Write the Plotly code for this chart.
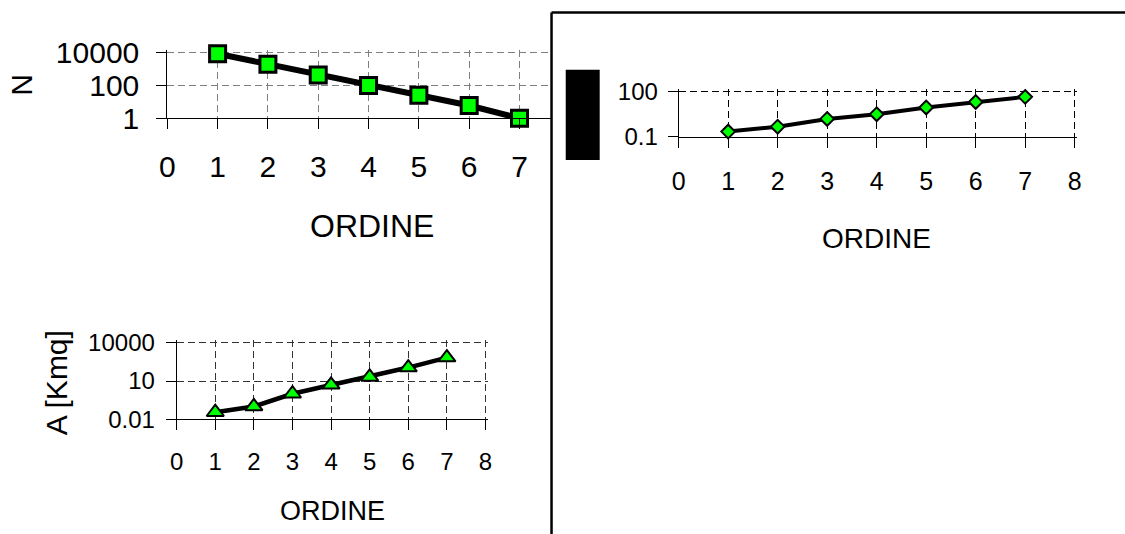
import plotly.graph_objects as go

# Stream order (Horton-Strahler) shared by the three plots
ordine = [1, 2, 3, 4, 5, 6, 7]

# Number of streams per order
n_aste = [9000, 2000, 450, 100, 26, 6, 1]

# Mean stream length per order
l_media = [0.22, 0.47, 1.55, 3.2, 9, 21, 46]

# Mean drainage area per order [Kmq]
a_media = [0.035, 0.1, 1, 5, 21, 115, 700]

x_ticks = [0, 1, 2, 3, 4, 5, 6, 7, 8]
n_ticks = [1, 100, 10000]
l_ticks = [0.1, 100]
a_ticks = [0.01, 10, 10000]

# Positions below are screen pixels; SX, SY, OY convert them to page pixels,
# and BODY is the default page margin in front of the graph div.
SX, SY, OY = 0.99, 0.94, 6.0
BODY = 8
SCREEN_W, SCREEN_H = 1125, 534
W = int(round(SCREEN_W / SX - BODY)) + 1
H = int(round((SCREEN_H - OY) / SY - BODY)) + 1
FONT = "Liberation Sans, Arial, sans-serif"
GREEN = "#00ff00"
PAD = 2.5  # px added past the last gridline so plotly keeps it


def px(x):
    return (x / SX - BODY) / W


def py(y):
    return 1 - ((y - OY) / SY - BODY) / H


fig = go.Figure()

fig.add_trace(go.Scatter(
    x=ordine, y=n_aste, mode="lines+markers", xaxis="x", yaxis="y",
    line=dict(color="black", width=6),
    marker=dict(symbol="square", size=16, color=GREEN, line=dict(color="black", width=3)),
    showlegend=False, cliponaxis=False))

fig.add_trace(go.Scatter(
    x=ordine, y=l_media, mode="lines+markers", xaxis="x2", yaxis="y2",
    line=dict(color="black", width=4),
    marker=dict(symbol="diamond", size=10.5, color=GREEN, line=dict(color="black", width=2)),
    showlegend=False, cliponaxis=False))

fig.add_trace(go.Scatter(
    x=ordine, y=a_media, mode="lines+markers", xaxis="x3", yaxis="y3",
    line=dict(color="black", width=4.5),
    marker=dict(symbol="triangle-up", size=15, color=GREEN, line=dict(color="black", width=2)),
    showlegend=False, cliponaxis=False))


def xaxis(x0, x1, rng, gridcolor, fs, standoff, anchor):
    # x0/x1 in screen pixels; x1 is where rng[1] sits before padding
    unit = (x1 - x0) / (rng[1] - rng[0])
    return dict(
        domain=[px(x0), px(x1 + PAD)], range=[rng[0], rng[1] + PAD / unit], anchor=anchor,
        tickvals=x_ticks, ticktext=[str(v) for v in x_ticks],
        showline=True, linecolor="black", linewidth=1,
        ticks="outside", ticklen=10, tickcolor="black", tickwidth=1,
        ticklabelstandoff=standoff,
        showgrid=True, gridcolor=gridcolor, gridwidth=1, griddash="7px,4px",
        zeroline=False, tickfont=dict(family=FONT, size=fs, color="black"),
        fixedrange=True)


def yaxis(y_bottom, y_top, rng, vals, anchor, gridcolor, fs, standoff):
    unit = (y_bottom - y_top) / (rng[1] - rng[0])
    return dict(
        domain=[py(y_bottom), py(y_top - PAD)], type="log",
        range=[rng[0], rng[1] + PAD / unit], anchor=anchor,
        tickvals=vals, ticktext=[f"{v:g}" for v in vals],
        showline=True, linecolor="black", linewidth=1,
        ticks="outside", ticklen=10, tickcolor="black", tickwidth=1,
        ticklabelstandoff=standoff,
        showgrid=True, gridcolor=gridcolor, gridwidth=1, griddash="7px,4px",
        zeroline=False, tickfont=dict(family=FONT, size=fs, color="black"),
        fixedrange=True)


# Top-left plot: the right panel cuts it off at x = 551 px
x1_left, x1_unit = 167.3, 50.35
x1_right = 551 - PAD
fig.update_layout(
    xaxis=xaxis(x1_left, x1_right, [0, (x1_right - x1_left) / x1_unit], "#7f7f7f", 30, 12, "y"),
    yaxis=yaxis(117.3, 52.3, [0, 4], n_ticks, "x", "#7f7f7f", 30, 11),
    xaxis2=xaxis(679, 1075.3, [0, 8], "#000000", 25, 12, "y2"),
    yaxis2=yaxis(135.7, 91, [-1, 2], l_ticks, "x2", "#000000", 24, 5),
    xaxis3=xaxis(176.7, 485.7, [0, 8], "#333333", 24, 11, "y3"),
    yaxis3=yaxis(416.9, 341, [-2, 4], a_ticks, "x3", "#333333", 24, 6),
)

annotations = [
    dict(text="ORDINE", x=px(372), y=py(225), size=32),
    dict(text="N", x=px(22), y=py(84), textangle=-90, size=30),
    dict(text="ORDINE", x=px(877), y=py(237), size=28),
    dict(text="ORDINE", x=px(333), y=py(508), size=27),
    dict(text="A [Kmq]", x=px(56), y=py(381), textangle=-90, size=30),
]
for a in annotations:
    size = a.pop("size")
    a.update(xref="paper", yref="paper", showarrow=False, xanchor="center", yanchor="middle",
             font=dict(family=FONT, size=size, color="black"))
fig.update_layout(annotations=annotations)

# Frame of the right panel and the dark block over its y-axis title
fig.update_layout(shapes=[
    dict(type="line", xref="paper", yref="paper", x0=px(551.8), x1=px(551.8), y0=py(12), y1=0,
         line=dict(color="black", width=2.5), layer="above"),
    dict(type="line", xref="paper", yref="paper", x0=px(551.8), x1=1, y0=py(12), y1=py(12),
         line=dict(color="black", width=2.5), layer="above"),
    dict(type="rect", xref="paper", yref="paper", x0=px(566), x1=px(600), y0=py(159), y1=py(69),
         fillcolor="black", line=dict(width=0), layer="above"),
])

fig.update_layout(
    width=W, height=H, margin=dict(l=0, r=0, t=0, b=0),
    paper_bgcolor="white", plot_bgcolor="white",
    font=dict(family=FONT, color="black"),
)

fig.write_html("out.html", config={"displayModeBar": False})
